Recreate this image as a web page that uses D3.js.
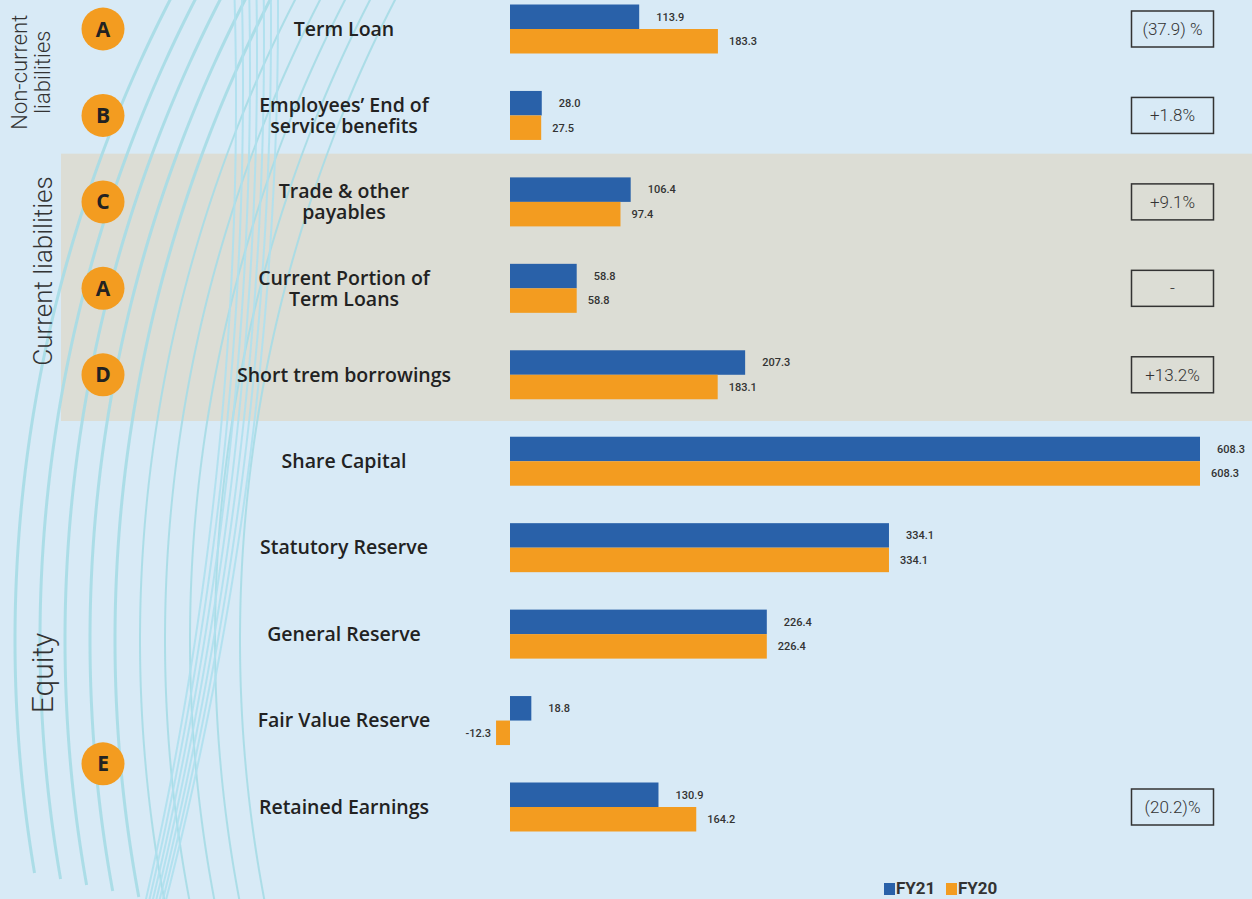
<!DOCTYPE html>
<html lang="en">
<head>
<meta charset="utf-8">
<title>Liabilities and Equity</title>
<script src="https://cdn.jsdelivr.net/npm/d3@7"></script>
<style>
  html, body { margin: 0; padding: 0; background: #d8eaf6; }
  svg { display: block; }
</style>
</head>
<body>
<script>
// data
var categories = ["Term Loan", "Employees’ End of|service benefits", "Trade & other|payables",
    "Current Portion of|Term Loans", "Short trem borrowings", "Share Capital", "Statutory Reserve",
    "General Reserve", "Fair Value Reserve", "Retained Earnings"];
var fy21 = [113.9, 28.0, 106.4, 58.8, 207.3, 608.3, 334.1, 226.4, 18.8, 130.9];
var fy20 = [183.3, 27.5, 97.4, 58.8, 183.1, 608.3, 334.1, 226.4, -12.3, 164.2];
var changes = ["(37.9) %", "+1.8%", "+9.1%", "-", "+13.2%", "", "", "", "", "(20.2)%"];
var letters = [["A", 0], ["B", 1], ["C", 2], ["A", 3], ["D", 4], ["E", 8.5]];
// label, row where it is centred
var sections = [["Non-current|liabilities", 0.5], ["Current liabilities", 2.8], ["Equity", 7.45]];
var seriesNames = ["FY21", "FY20"];

var W = 1252, H = 899;
var blue = "#2961a9", orange = "#f39c20";

var svg = d3.select("body").append("svg")
    .attr("width", W)
    .attr("height", H);

svg.append("rect").attr("width", W).attr("height", H).attr("fill", "#d8eaf6");

// scales
var x = d3.scaleLinear().domain([0, 608.3]).range([510, 1200]);
var y = d3.scalePoint().domain(d3.range(categories.length)).range([29, 807]);
var yAt = function(i) { // fractional row index
    var a = Math.floor(i), b = Math.ceil(i);
    return y(a) + (y(b) - y(a)) * (i - a);
};
var barH = 24.5;

// grey band behind current liabilities
svg.append("rect")
    .attr("x", 61).attr("width", W - 61)
    .attr("y", yAt(1.5) - 5)
    .attr("height", yAt(4.5) - yAt(1.5) + 8)
    .attr("fill", "#dcddd5");

// decorative curves
var deco = svg.append("g").attr("fill", "none").attr("stroke", "#a6dce6").attr("stroke-opacity", 0.9);
var R1 = 1399;
for (var i = 0; i < 10; i++) {
    var x0 = 15 + 25 * i, yEnd = 873 + 6 * i;
    var pts = d3.range(-10, yEnd, 8).concat([yEnd]).map(function(yy) {
        return [x0 + R1 - Math.sqrt(R1 * R1 - (yy - 640) * (yy - 640)), yy];
    });
    deco.append("path").attr("d", d3.line()(pts)).attr("stroke-width", i < 5 ? 3 : 2);
}
var R2 = 3592;
for (var j = 0; j < 7; j++) {
    var xm = 236 + 7 * j, cy = 100 - 15 * j;
    var pts2 = d3.range(-10, 910, 8).map(function(yy) {
        return [xm - R2 + Math.sqrt(R2 * R2 - (yy - cy) * (yy - cy)), yy];
    });
    deco.append("path").attr("d", d3.line()(pts2)).attr("stroke-width", 2).attr("stroke", "#aee0ee");
}

// section labels
sections.forEach(function(s) {
    var cy = yAt(s[1]);
    var lines = s[0].split("|");
    var multi = lines.length > 1;
    var t = svg.append("text")
        .attr("transform", "translate(" + (multi ? 27 : (s[0] == "Equity" ? 53 : 52)) + "," + cy + ") rotate(-90)")
        .attr("text-anchor", "middle")
        .attr("font-family", "Roboto")
        .attr("font-weight", 300)
        .attr("font-size", multi ? 22 : (s[0] == "Equity" ? 30 : 26))
        .attr("fill", "#333");
    lines.forEach(function(l, k) {
        t.append("tspan").attr("x", 0).attr("dy", k == 0 ? 0 : 23).text(l);
    });
});

// letter circles
var lg = svg.selectAll(".letter").data(letters).enter().append("g")
    .attr("transform", function(d) { return "translate(103," + yAt(d[1]) + ")"; });
lg.append("circle").attr("r", 21.5).attr("fill", orange);
lg.append("text")
    .attr("text-anchor", "middle").attr("dy", "0.36em")
    .attr("font-family", "Open Sans").attr("font-weight", 700).attr("font-size", 21)
    .attr("fill", "#222")
    .text(function(d) { return d[0]; });

// category labels
categories.forEach(function(c, i) {
    var lines = c.split("|");
    var t = svg.append("text")
        .attr("x", 344)
        .attr("y", y(i) - (lines.length - 1) * 10.5)
        .attr("text-anchor", "middle")
        .attr("font-family", "Open Sans")
        .attr("font-weight", 600)
        .attr("font-size", 19.5)
        .attr("fill", "#222");
    lines.forEach(function(l, k) {
        t.append("tspan").attr("x", 344).attr("dy", k == 0 ? "0.35em" : 21).text(l);
    });
});

// bars
var series = [fy21, fy20];
var colors = [blue, orange];
series.forEach(function(vals, s) {
    var g = svg.append("g");
    g.selectAll("rect").data(vals).enter().append("rect")
        .attr("x", function(d) { return Math.min(x(d), x(0)); })
        .attr("y", function(d, i) { return y(i) - barH + s * barH; })
        .attr("width", function(d) { return Math.abs(x(d) - x(0)); })
        .attr("height", barH)
        .attr("fill", colors[s]);
    g.selectAll("text").data(vals).enter().append("text")
        .attr("x", function(d) { return d < 0 ? x(d) - 5 : x(d) + (s == 0 ? 17 : 11); })
        .attr("y", function(d, i) { return y(i) - barH / 2 + s * barH; })
        .attr("dy", "0.35em")
        .attr("text-anchor", function(d) { return d < 0 ? "end" : "start"; })
        .attr("font-family", "Roboto").attr("font-weight", 500).attr("font-size", 11)
        .attr("fill", "#333")
        .text(function(d) { return d.toFixed(1); });
});

// change boxes
changes.forEach(function(c, i) {
    if (!c) return;
    svg.append("rect")
        .attr("x", 1131.5).attr("y", y(i) - 18)
        .attr("width", 82).attr("height", 36)
        .attr("fill", "none").attr("stroke", "#333").attr("stroke-width", 1.5);
    svg.append("text")
        .attr("x", 1172.5).attr("y", y(i)).attr("dy", "0.35em")
        .attr("text-anchor", "middle")
        .attr("font-family", "Roboto").attr("font-weight", 300).attr("font-size", 17)
        .attr("fill", "#333")
        .text(c);
});

// legend
var leg = svg.append("g").attr("transform", "translate(884,894)");
var lx = 0;
seriesNames.forEach(function(n, k) {
    leg.append("rect").attr("x", lx).attr("y", -11).attr("width", 11).attr("height", 12).attr("fill", colors[k]);
    leg.append("text").attr("x", lx + 12).attr("y", 0)
        .attr("font-family", "Roboto").attr("font-weight", "bold").attr("font-size", 17)
        .attr("fill", "#333").text(n);
    lx += 62;
});
</script>
</body>
</html>
